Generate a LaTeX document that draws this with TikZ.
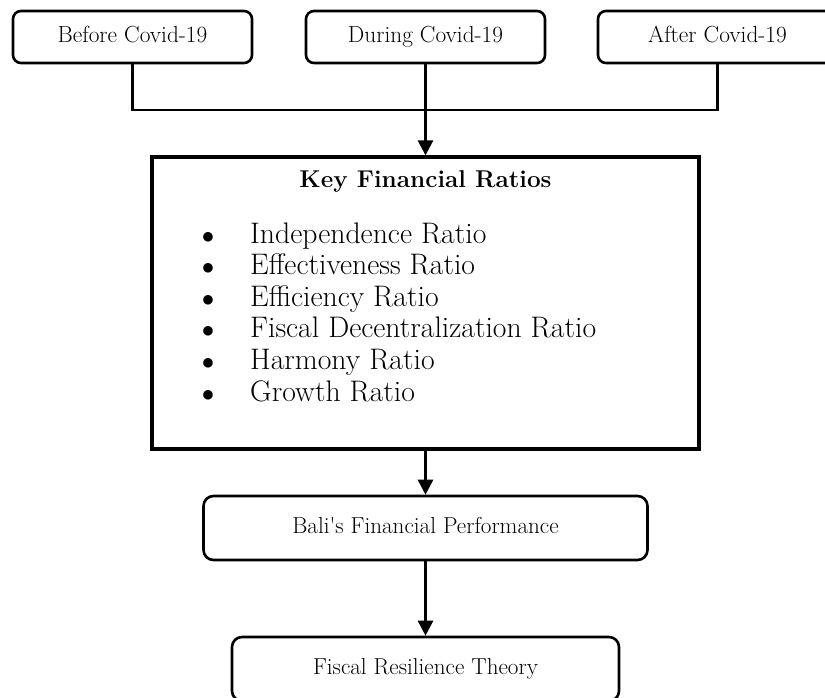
\documentclass[tikz,border=0pt]{standalone}
\usetikzlibrary{arrows.meta}
\begin{document}
\begin{tikzpicture}[x=1pt,y=-1pt,
  topbox/.style={draw,line width=2.6pt,rounded corners=8pt,minimum width=239pt,minimum height=52pt,inner sep=0pt,text height=16pt,text depth=5pt,font=\fontsize{23.3}{27}\selectfont},
  midbox/.style={draw,line width=2.6pt,rounded corners=10pt,inner sep=0pt,text height=16pt,text depth=5pt,font=\fontsize{23.1}{27}\selectfont},
  keybox/.style={draw,line width=3.3pt,minimum width=547pt,minimum height=292pt,inner sep=0pt},
  item/.style={anchor=base west,inner sep=0pt,font=\fontsize{29.7}{34}\selectfont},
  bul/.style={anchor=base,inner sep=0pt,font=\fontsize{27.3}{32}\selectfont},
  conn/.style={line width=2.6pt},
  arr/.style={line width=2.6pt,-{Triangle[length=15pt,width=15pt]}}]
\path[use as bounding box,clip] (0,0) rectangle (825,697);
\node[topbox] (b1) at (132.5,37) {Before Covid-19};
\node[topbox] (b2) at (425.5,37) {During Covid-19};
\node[topbox] (b3) at (717.5,37) {After Covid-19};
\coordinate (j) at (425.5,110);
\node[keybox] (key) at (425.5,303) {};
\node[anchor=base,inner sep=0pt,font=\fontsize{24.3}{28}\selectfont\bfseries] (title) at (425.5,187) {Key Financial Ratios};
\node[bul] (u1) at (208,243) {$\bullet$};
\node[item] (i1) at (250,243) {Independence Ratio};
\node[bul] (u2) at (208,274.6) {$\bullet$};
\node[item] (i2) at (250,274.6) {Effectiveness Ratio};
\node[bul] (u3) at (208,306.2) {$\bullet$};
\node[item] (i3) at (250,306.2) {Efficiency Ratio};
\node[bul] (u4) at (208,337.8) {$\bullet$};
\node[item] (i4) at (250,337.8) {Fiscal Decentralization Ratio};
\node[bul] (u5) at (208,369.4) {$\bullet$};
\node[item] (i5) at (250,369.4) {Harmony Ratio};
\node[bul] (u6) at (208,401) {$\bullet$};
\node[item] (i6) at (250,401) {Growth Ratio};
\node[midbox,minimum width=444pt,minimum height=64pt] (bali) at (425.5,528) {Bali\textquotesingle s Financial Performance};
\node[midbox,minimum width=387pt,minimum height=64pt] (fiscal) at (425.5,669) {Fiscal Resilience Theory};
\draw[conn] (b1.south) |- (j) -| (b3.south);
\draw[arr] (b2.south) -- (key.north);
\draw[arr] (key.south) -- (bali.north);
\draw[arr] (bali.south) -- (fiscal.north);
\end{tikzpicture}
\end{document}
